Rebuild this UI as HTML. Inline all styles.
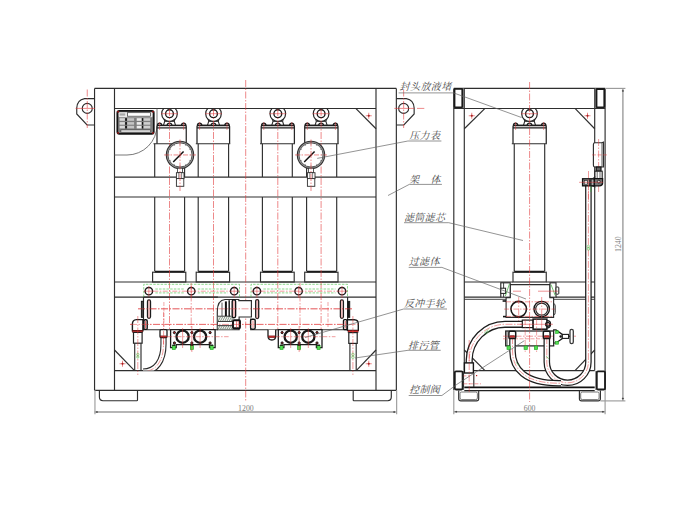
<!DOCTYPE html>
<html><head><meta charset="utf-8"><title>drawing</title>
<style>html,body{margin:0;padding:0;background:#fff;}svg{display:block;}text{font-family:"Liberation Serif","Noto Serif CJK SC",serif;}</style>
</head><body>
<svg width="700" height="525" viewBox="0 0 700 525" shape-rendering="geometricPrecision">
<rect x="0" y="0" width="700" height="525" fill="#ffffff"/>
<line x1="94.55" y1="88.4" x2="396.35" y2="88.4" stroke="#2e2e2e" stroke-width="1.15" />
<line x1="94.55" y1="88.4" x2="94.55" y2="390.3" stroke="#2e2e2e" stroke-width="1.15" />
<line x1="396.35" y1="88.4" x2="396.35" y2="390.3" stroke="#2e2e2e" stroke-width="1.15" />
<line x1="94.55" y1="390.3" x2="396.35" y2="390.3" stroke="#2e2e2e" stroke-width="1.15" />
<line x1="114.5" y1="88.4" x2="114.5" y2="390.3" stroke="#2e2e2e" stroke-width="1.15" />
<line x1="376.0" y1="88.4" x2="376.0" y2="390.3" stroke="#2e2e2e" stroke-width="1.15" />
<line x1="114.5" y1="108.45" x2="376.0" y2="108.45" stroke="#2e2e2e" stroke-width="1.15" />
<line x1="114.5" y1="177.1" x2="376.0" y2="177.1" stroke="#2e2e2e" stroke-width="1.15" />
<line x1="114.5" y1="196.95" x2="376.0" y2="196.95" stroke="#2e2e2e" stroke-width="1.15" />
<line x1="114.5" y1="282.0" x2="376.0" y2="282.0" stroke="#2e2e2e" stroke-width="1.15" />
<line x1="114.5" y1="297.1" x2="376.0" y2="297.1" stroke="#2e2e2e" stroke-width="1.15" />
<line x1="114.5" y1="370.6" x2="376.0" y2="370.6" stroke="#2e2e2e" stroke-width="1.15" />
<path d="M99.4,390.3 V397.09999999999997 Q99.4,400.7 103.0,400.7 H136.8 Q137.5,400.7 137.5,400.0 V390.3" stroke="#2e2e2e" stroke-width="1.15" fill="none" />
<path d="M353.2,390.3 V400.0 Q353.2,400.7 353.9,400.7 H387.7 Q391.3,400.7 391.3,397.09999999999997 V390.3" stroke="#2e2e2e" stroke-width="1.15" fill="none" />
<path d="M94.55,98.6 H84.55 Q77.05,100 76.75,108 V114 L87.05,125 H94.55" stroke="#2e2e2e" stroke-width="1.15" fill="none" />
<circle cx="87.25" cy="108.4" r="5.0" stroke="#2e2e2e" stroke-width="1.15" fill="none" />
<line x1="87.25" y1="89.5" x2="87.25" y2="128" stroke="#e0393b" stroke-width="0.6" stroke-dasharray="7 1.5 1.5 1.5"/>
<line x1="75.6" y1="108.4" x2="95" y2="108.4" stroke="#e0393b" stroke-width="0.6" />
<path d="M396.35,98.6 H406.35 Q413.85,100 414.15000000000003,108 V114 L403.85,125 H396.35" stroke="#2e2e2e" stroke-width="1.15" fill="none" />
<circle cx="403.65000000000003" cy="108.4" r="5.0" stroke="#2e2e2e" stroke-width="1.15" fill="none" />
<line x1="403.65000000000003" y1="89.5" x2="403.65000000000003" y2="128" stroke="#e0393b" stroke-width="0.6" stroke-dasharray="7 1.5 1.5 1.5"/>
<line x1="394.3" y1="108.4" x2="414.3" y2="108.4" stroke="#e0393b" stroke-width="0.6" />
<line x1="417" y1="108.4" x2="424.3" y2="108.4" stroke="#e0393b" stroke-width="0.6" />
<line x1="355.75" y1="108.45" x2="376.0" y2="128.75" stroke="#2e2e2e" stroke-width="1.15" />
<line x1="365.75" y1="115.75" x2="371.75" y2="115.75" stroke="#e0393b" stroke-width="0.6" />
<line x1="368.75" y1="112.75" x2="368.75" y2="118.75" stroke="#e0393b" stroke-width="0.6" />
<circle cx="368.75" cy="115.75" r="0.8" stroke="#a02020" stroke-width="0.5" fill="#a02020" />
<line x1="114.5" y1="350" x2="134.5" y2="370.6" stroke="#2e2e2e" stroke-width="1.15" />
<line x1="119.5" y1="363.75" x2="125.5" y2="363.75" stroke="#e0393b" stroke-width="0.6" />
<line x1="122.5" y1="360.75" x2="122.5" y2="366.75" stroke="#e0393b" stroke-width="0.6" />
<circle cx="122.5" cy="363.75" r="0.8" stroke="#a02020" stroke-width="0.5" fill="#a02020" />
<line x1="376.0" y1="350" x2="356.25" y2="370.6" stroke="#2e2e2e" stroke-width="1.15" />
<line x1="365.75" y1="363.75" x2="371.75" y2="363.75" stroke="#e0393b" stroke-width="0.6" />
<line x1="368.75" y1="360.75" x2="368.75" y2="366.75" stroke="#e0393b" stroke-width="0.6" />
<circle cx="368.75" cy="363.75" r="0.8" stroke="#a02020" stroke-width="0.5" fill="#a02020" />
<rect x="117.3" y="110.9" width="36.5" height="22.9" rx="2" stroke="#141414" stroke-width="1.7" fill="#7d7d7d" />
<rect x="118.8" y="112.3" width="33.6" height="4.9" rx="1" stroke="none" stroke-width="0" fill="#e9e9e9" />
<rect x="119.6" y="113.4" width="5.6" height="2.2" rx="0" stroke="none" stroke-width="0" fill="#a8a8a8" />
<rect x="127.5" y="112.7" width="23.0" height="3.5" rx="0" stroke="#333" stroke-width="0.7" fill="#fff" />
<rect x="119.6" y="118.2" width="5.3" height="2.6" rx="0" stroke="none" stroke-width="0" fill="#d8d8d8" />
<rect x="125.2" y="118.2" width="1.7" height="2.6" rx="0" stroke="none" stroke-width="0" fill="#111" />
<rect x="127.2" y="118.2" width="6.9" height="2.6" rx="0" stroke="none" stroke-width="0" fill="#c4c4c4" />
<rect x="136.7" y="118.2" width="4.9" height="2.6" rx="0" stroke="none" stroke-width="0" fill="#ececec" />
<rect x="141.9" y="118.2" width="1.4" height="2.6" rx="0" stroke="none" stroke-width="0" fill="#111" />
<rect x="143.6" y="118.2" width="6.6" height="2.6" rx="0" stroke="none" stroke-width="0" fill="#cfcfcf" />
<rect x="119.6" y="122.1" width="5.3" height="2.6" rx="0" stroke="none" stroke-width="0" fill="#d8d8d8" />
<rect x="125.2" y="122.1" width="1.7" height="2.6" rx="0" stroke="none" stroke-width="0" fill="#111" />
<rect x="127.2" y="122.1" width="6.9" height="2.6" rx="0" stroke="none" stroke-width="0" fill="#c4c4c4" />
<rect x="136.7" y="122.1" width="4.9" height="2.6" rx="0" stroke="none" stroke-width="0" fill="#ececec" />
<rect x="141.9" y="122.1" width="1.4" height="2.6" rx="0" stroke="none" stroke-width="0" fill="#111" />
<rect x="143.6" y="122.1" width="6.6" height="2.6" rx="0" stroke="none" stroke-width="0" fill="#cfcfcf" />
<rect x="119.6" y="125.8" width="5.3" height="2.6" rx="0" stroke="none" stroke-width="0" fill="#d8d8d8" />
<rect x="125.2" y="125.8" width="1.7" height="2.6" rx="0" stroke="none" stroke-width="0" fill="#111" />
<rect x="127.2" y="125.8" width="6.9" height="2.6" rx="0" stroke="none" stroke-width="0" fill="#c4c4c4" />
<rect x="136.7" y="125.8" width="4.9" height="2.6" rx="0" stroke="none" stroke-width="0" fill="#ececec" />
<rect x="141.9" y="125.8" width="1.4" height="2.6" rx="0" stroke="none" stroke-width="0" fill="#111" />
<rect x="143.6" y="125.8" width="6.6" height="2.6" rx="0" stroke="none" stroke-width="0" fill="#cfcfcf" />
<rect x="120.9" y="130" width="29.6" height="2.1" rx="0" stroke="#333" stroke-width="0.6" fill="#fff" />
<circle cx="118.1" cy="111.7" r="0.7" stroke="#c01818" stroke-width="0.3" fill="#c01818" />
<circle cx="153" cy="111.7" r="0.7" stroke="#c01818" stroke-width="0.3" fill="#c01818" />
<circle cx="118.1" cy="133" r="0.7" stroke="#c01818" stroke-width="0.3" fill="#c01818" />
<circle cx="153" cy="133" r="0.7" stroke="#c01818" stroke-width="0.3" fill="#c01818" />
<path d="M157,108.45 V125 A30,30 0 0 1 127,155 H114.5" stroke="#555" stroke-width="0.8" fill="none" />
<clipPath id="belowbeam"><rect x="0" y="108.6" width="700" height="100"/></clipPath>
<g clip-path="url(#belowbeam)">
<circle cx="169.5" cy="113.7" r="7.8" stroke="#262626" stroke-width="1.2" fill="none" />
<circle cx="169.5" cy="113.7" r="3.9" stroke="#1c1c1c" stroke-width="1.4" fill="none" />
</g>
<path d="M164.3,119.6 L164.7,121.4 L163.5,125.2 M174.7,119.6 L174.3,121.4 L175.5,125.2" stroke="#2e2e2e" stroke-width="1.1" fill="none" />
<line x1="164.7" y1="121.4" x2="174.3" y2="121.4" stroke="#2e2e2e" stroke-width="0.9" />
<path d="M167.1,125.2 Q167.3,123.2 169.5,123.2 Q171.7,123.2 171.9,125.2" stroke="#1c1c1c" stroke-width="1.3" fill="none" />
<line x1="161.0" y1="113.7" x2="178.0" y2="113.7" stroke="#e0393b" stroke-width="0.55" />
<path d="M157,143.75 V126.4 Q157,125.4 158,125.4 H185.25 Q186.25,125.4 186.25,126.4 V143.75" stroke="#262626" stroke-width="1.25" fill="none" />
<line x1="157" y1="125.5" x2="186.25" y2="125.5" stroke="#1c1c1c" stroke-width="1.3" />
<line x1="157" y1="127.9" x2="186.25" y2="127.9" stroke="#1c1c1c" stroke-width="1.2" />
<line x1="153.5" y1="143.75" x2="186.85" y2="143.75" stroke="#2e2e2e" stroke-width="1.15" />
<path d="M157.4,125.4 Q157.6,123.2 159.6,123.2 Q161.6,123.2 161.79999999999998,125.4" stroke="#1c1c1c" stroke-width="1.3" fill="none" />
<line x1="159.6" y1="122" x2="159.6" y2="130" stroke="#e0393b" stroke-width="0.5" />
<path d="M181.45000000000002,125.4 Q181.65,123.2 183.65,123.2 Q185.65,123.2 185.85,125.4" stroke="#1c1c1c" stroke-width="1.3" fill="none" />
<line x1="183.65" y1="122" x2="183.65" y2="130" stroke="#e0393b" stroke-width="0.5" />
<line x1="154.7" y1="143.75" x2="154.7" y2="177.1" stroke="#2e2e2e" stroke-width="1.15" />
<line x1="184.6" y1="143.75" x2="184.6" y2="177.1" stroke="#2e2e2e" stroke-width="1.15" />
<line x1="154.7" y1="196.95" x2="154.7" y2="271" stroke="#2e2e2e" stroke-width="1.15" />
<line x1="184.6" y1="196.95" x2="184.6" y2="271" stroke="#2e2e2e" stroke-width="1.15" />
<line x1="154.7" y1="271.7" x2="184.6" y2="271.7" stroke="#111" stroke-width="1.9" />
<rect x="152.6" y="272.2" width="33.2" height="9.8" rx="0" stroke="#2e2e2e" stroke-width="1.15" fill="none" />
<line x1="169.5" y1="109" x2="169.5" y2="329" stroke="#e0393b" stroke-width="0.6" stroke-dasharray="7 1.5 1.5 1.5"/>
<g clip-path="url(#belowbeam)">
<circle cx="213.5" cy="113.7" r="7.8" stroke="#262626" stroke-width="1.2" fill="none" />
<circle cx="213.5" cy="113.7" r="3.9" stroke="#1c1c1c" stroke-width="1.4" fill="none" />
</g>
<path d="M208.3,119.6 L208.7,121.4 L207.5,125.2 M218.7,119.6 L218.3,121.4 L219.5,125.2" stroke="#2e2e2e" stroke-width="1.1" fill="none" />
<line x1="208.7" y1="121.4" x2="218.3" y2="121.4" stroke="#2e2e2e" stroke-width="0.9" />
<path d="M211.1,125.2 Q211.3,123.2 213.5,123.2 Q215.7,123.2 215.9,125.2" stroke="#1c1c1c" stroke-width="1.3" fill="none" />
<line x1="205.0" y1="113.7" x2="222.0" y2="113.7" stroke="#e0393b" stroke-width="0.55" />
<path d="M197,143.75 V126.4 Q197,125.4 198,125.4 H228.6 Q229.6,125.4 229.6,126.4 V143.75" stroke="#262626" stroke-width="1.25" fill="none" />
<line x1="197" y1="125.5" x2="229.6" y2="125.5" stroke="#1c1c1c" stroke-width="1.3" />
<line x1="197" y1="127.9" x2="229.6" y2="127.9" stroke="#1c1c1c" stroke-width="1.2" />
<line x1="195.8" y1="143.75" x2="230.2" y2="143.75" stroke="#2e2e2e" stroke-width="1.15" />
<path d="M197.4,125.4 Q197.6,123.2 199.6,123.2 Q201.6,123.2 201.79999999999998,125.4" stroke="#1c1c1c" stroke-width="1.3" fill="none" />
<line x1="199.6" y1="122" x2="199.6" y2="130" stroke="#e0393b" stroke-width="0.5" />
<path d="M224.8,125.4 Q225.0,123.2 227.0,123.2 Q229.0,123.2 229.2,125.4" stroke="#1c1c1c" stroke-width="1.3" fill="none" />
<line x1="227.0" y1="122" x2="227.0" y2="130" stroke="#e0393b" stroke-width="0.5" />
<line x1="198.2" y1="143.75" x2="198.2" y2="177.1" stroke="#2e2e2e" stroke-width="1.15" />
<line x1="228.6" y1="143.75" x2="228.6" y2="177.1" stroke="#2e2e2e" stroke-width="1.15" />
<line x1="198.2" y1="196.95" x2="198.2" y2="271" stroke="#2e2e2e" stroke-width="1.15" />
<line x1="228.6" y1="196.95" x2="228.6" y2="271" stroke="#2e2e2e" stroke-width="1.15" />
<line x1="198.2" y1="271.7" x2="228.6" y2="271.7" stroke="#111" stroke-width="1.9" />
<rect x="196.2" y="272.2" width="33.4" height="9.8" rx="0" stroke="#2e2e2e" stroke-width="1.15" fill="none" />
<line x1="213.5" y1="109" x2="213.5" y2="329" stroke="#e0393b" stroke-width="0.6" stroke-dasharray="7 1.5 1.5 1.5"/>
<g clip-path="url(#belowbeam)">
<circle cx="277.8" cy="113.7" r="7.8" stroke="#262626" stroke-width="1.2" fill="none" />
<circle cx="277.8" cy="113.7" r="3.9" stroke="#1c1c1c" stroke-width="1.4" fill="none" />
</g>
<path d="M272.6,119.6 L273.0,121.4 L271.8,125.2 M283.0,119.6 L282.6,121.4 L283.8,125.2" stroke="#2e2e2e" stroke-width="1.1" fill="none" />
<line x1="273.0" y1="121.4" x2="282.6" y2="121.4" stroke="#2e2e2e" stroke-width="0.9" />
<path d="M275.40000000000003,125.2 Q275.6,123.2 277.8,123.2 Q280.0,123.2 280.2,125.2" stroke="#1c1c1c" stroke-width="1.3" fill="none" />
<line x1="269.3" y1="113.7" x2="286.3" y2="113.7" stroke="#e0393b" stroke-width="0.55" />
<path d="M261.2,143.75 V126.4 Q261.2,125.4 262.2,125.4 H293.4 Q294.4,125.4 294.4,126.4 V143.75" stroke="#262626" stroke-width="1.25" fill="none" />
<line x1="261.2" y1="125.5" x2="294.4" y2="125.5" stroke="#1c1c1c" stroke-width="1.3" />
<line x1="261.2" y1="127.9" x2="294.4" y2="127.9" stroke="#1c1c1c" stroke-width="1.2" />
<line x1="260.0" y1="143.75" x2="295.0" y2="143.75" stroke="#2e2e2e" stroke-width="1.15" />
<path d="M261.6,125.4 Q261.8,123.2 263.8,123.2 Q265.8,123.2 266.0,125.4" stroke="#1c1c1c" stroke-width="1.3" fill="none" />
<line x1="263.8" y1="122" x2="263.8" y2="130" stroke="#e0393b" stroke-width="0.5" />
<path d="M289.59999999999997,125.4 Q289.79999999999995,123.2 291.79999999999995,123.2 Q293.79999999999995,123.2 293.99999999999994,125.4" stroke="#1c1c1c" stroke-width="1.3" fill="none" />
<line x1="291.79999999999995" y1="122" x2="291.79999999999995" y2="130" stroke="#e0393b" stroke-width="0.5" />
<line x1="262.4" y1="143.75" x2="262.4" y2="177.1" stroke="#2e2e2e" stroke-width="1.15" />
<line x1="292.3" y1="143.75" x2="292.3" y2="177.1" stroke="#2e2e2e" stroke-width="1.15" />
<line x1="262.4" y1="196.95" x2="262.4" y2="271" stroke="#2e2e2e" stroke-width="1.15" />
<line x1="292.3" y1="196.95" x2="292.3" y2="271" stroke="#2e2e2e" stroke-width="1.15" />
<line x1="262.4" y1="271.7" x2="292.3" y2="271.7" stroke="#111" stroke-width="1.9" />
<rect x="260.5" y="272.2" width="33.7" height="9.8" rx="0" stroke="#2e2e2e" stroke-width="1.15" fill="none" />
<line x1="277.8" y1="109" x2="277.8" y2="329" stroke="#e0393b" stroke-width="0.6" stroke-dasharray="7 1.5 1.5 1.5"/>
<g clip-path="url(#belowbeam)">
<circle cx="321.1" cy="113.7" r="7.8" stroke="#262626" stroke-width="1.2" fill="none" />
<circle cx="321.1" cy="113.7" r="3.9" stroke="#1c1c1c" stroke-width="1.4" fill="none" />
</g>
<path d="M315.90000000000003,119.6 L316.3,121.4 L315.1,125.2 M326.3,119.6 L325.90000000000003,121.4 L327.1,125.2" stroke="#2e2e2e" stroke-width="1.1" fill="none" />
<line x1="316.3" y1="121.4" x2="325.90000000000003" y2="121.4" stroke="#2e2e2e" stroke-width="0.9" />
<path d="M318.70000000000005,125.2 Q318.90000000000003,123.2 321.1,123.2 Q323.3,123.2 323.5,125.2" stroke="#1c1c1c" stroke-width="1.3" fill="none" />
<line x1="312.6" y1="113.7" x2="329.6" y2="113.7" stroke="#e0393b" stroke-width="0.55" />
<path d="M304.7,143.75 V126.4 Q304.7,125.4 305.7,125.4 H337 Q338,125.4 338,126.4 V143.75" stroke="#262626" stroke-width="1.25" fill="none" />
<line x1="304.7" y1="125.5" x2="338" y2="125.5" stroke="#1c1c1c" stroke-width="1.3" />
<line x1="304.7" y1="127.9" x2="338" y2="127.9" stroke="#1c1c1c" stroke-width="1.2" />
<line x1="303.5" y1="143.75" x2="338.6" y2="143.75" stroke="#2e2e2e" stroke-width="1.15" />
<path d="M305.1,125.4 Q305.3,123.2 307.3,123.2 Q309.3,123.2 309.5,125.4" stroke="#1c1c1c" stroke-width="1.3" fill="none" />
<line x1="307.3" y1="122" x2="307.3" y2="130" stroke="#e0393b" stroke-width="0.5" />
<path d="M333.2,125.4 Q333.4,123.2 335.4,123.2 Q337.4,123.2 337.59999999999997,125.4" stroke="#1c1c1c" stroke-width="1.3" fill="none" />
<line x1="335.4" y1="122" x2="335.4" y2="130" stroke="#e0393b" stroke-width="0.5" />
<line x1="306.6" y1="143.75" x2="306.6" y2="177.1" stroke="#2e2e2e" stroke-width="1.15" />
<line x1="336.7" y1="143.75" x2="336.7" y2="177.1" stroke="#2e2e2e" stroke-width="1.15" />
<line x1="306.6" y1="196.95" x2="306.6" y2="271" stroke="#2e2e2e" stroke-width="1.15" />
<line x1="336.7" y1="196.95" x2="336.7" y2="271" stroke="#2e2e2e" stroke-width="1.15" />
<line x1="306.6" y1="271.7" x2="336.7" y2="271.7" stroke="#111" stroke-width="1.9" />
<rect x="304.7" y="272.2" width="33.3" height="9.8" rx="0" stroke="#2e2e2e" stroke-width="1.15" fill="none" />
<line x1="321.1" y1="109" x2="321.1" y2="329" stroke="#e0393b" stroke-width="0.6" stroke-dasharray="7 1.5 1.5 1.5"/>
<line x1="245.7" y1="80" x2="245.7" y2="402" stroke="#e0393b" stroke-width="0.6" stroke-dasharray="7 1.5 1.5 1.5"/>
<circle cx="180" cy="154.95" r="13.6" stroke="#fff" stroke-width="0" fill="#fff" />
<circle cx="180" cy="154.95" r="12.95" stroke="#9a9a9a" stroke-width="1.5" fill="none" />
<circle cx="180" cy="154.95" r="13.7" stroke="#333" stroke-width="1.1" fill="none" />
<circle cx="180" cy="154.95" r="12.1" stroke="#444" stroke-width="0.9" fill="none" />
<line x1="190.3" y1="154.95" x2="192.0" y2="154.95" stroke="#666" stroke-width="0.5" />
<line x1="188.92" y1="160.1" x2="190.39" y2="160.95" stroke="#666" stroke-width="0.5" />
<line x1="185.15" y1="163.87" x2="186.0" y2="165.34" stroke="#666" stroke-width="0.5" />
<line x1="180.0" y1="165.25" x2="180.0" y2="166.95" stroke="#666" stroke-width="0.5" />
<line x1="174.85" y1="163.87" x2="174.0" y2="165.34" stroke="#666" stroke-width="0.5" />
<line x1="171.08" y1="160.1" x2="169.61" y2="160.95" stroke="#666" stroke-width="0.5" />
<line x1="169.7" y1="154.95" x2="168.0" y2="154.95" stroke="#666" stroke-width="0.5" />
<line x1="171.08" y1="149.8" x2="169.61" y2="148.95" stroke="#666" stroke-width="0.5" />
<line x1="174.85" y1="146.03" x2="174.0" y2="144.56" stroke="#666" stroke-width="0.5" />
<line x1="180.0" y1="144.65" x2="180.0" y2="142.95" stroke="#666" stroke-width="0.5" />
<line x1="185.15" y1="146.03" x2="186.0" y2="144.56" stroke="#666" stroke-width="0.5" />
<line x1="188.92" y1="149.8" x2="190.39" y2="148.95" stroke="#666" stroke-width="0.5" />
<line x1="173.2" y1="161.95" x2="183.6" y2="151.54999999999998" stroke="#111" stroke-width="1.5" />
<rect x="177.6" y="168.2" width="5.0" height="4.5" rx="0" stroke="#2e2e2e" stroke-width="0.8" fill="#fff" />
<rect x="176.4" y="172.7" width="7.6" height="5.9" rx="0" stroke="#2e2e2e" stroke-width="0.9" fill="#fff" />
<line x1="178.8" y1="172.7" x2="178.8" y2="178.6" stroke="#2e2e2e" stroke-width="0.6" />
<line x1="181.6" y1="172.7" x2="181.6" y2="178.6" stroke="#2e2e2e" stroke-width="0.6" />
<rect x="176.4" y="178.6" width="7.4" height="7.7" rx="0" stroke="#2e2e2e" stroke-width="0.9" fill="#fff" />
<line x1="180" y1="139.5" x2="180" y2="191" stroke="#e0393b" stroke-width="0.6" stroke-dasharray="7 1.5 1.5 1.5"/>
<line x1="164" y1="154.95" x2="196" y2="154.95" stroke="#e0393b" stroke-width="0.6" stroke-dasharray="5 1.5 1.5 1.5"/>
<circle cx="311" cy="154.95" r="13.6" stroke="#fff" stroke-width="0" fill="#fff" />
<circle cx="311" cy="154.95" r="12.95" stroke="#9a9a9a" stroke-width="1.5" fill="none" />
<circle cx="311" cy="154.95" r="13.7" stroke="#333" stroke-width="1.1" fill="none" />
<circle cx="311" cy="154.95" r="12.1" stroke="#444" stroke-width="0.9" fill="none" />
<line x1="321.3" y1="154.95" x2="323.0" y2="154.95" stroke="#666" stroke-width="0.5" />
<line x1="319.92" y1="160.1" x2="321.39" y2="160.95" stroke="#666" stroke-width="0.5" />
<line x1="316.15" y1="163.87" x2="317.0" y2="165.34" stroke="#666" stroke-width="0.5" />
<line x1="311.0" y1="165.25" x2="311.0" y2="166.95" stroke="#666" stroke-width="0.5" />
<line x1="305.85" y1="163.87" x2="305.0" y2="165.34" stroke="#666" stroke-width="0.5" />
<line x1="302.08" y1="160.1" x2="300.61" y2="160.95" stroke="#666" stroke-width="0.5" />
<line x1="300.7" y1="154.95" x2="299.0" y2="154.95" stroke="#666" stroke-width="0.5" />
<line x1="302.08" y1="149.8" x2="300.61" y2="148.95" stroke="#666" stroke-width="0.5" />
<line x1="305.85" y1="146.03" x2="305.0" y2="144.56" stroke="#666" stroke-width="0.5" />
<line x1="311.0" y1="144.65" x2="311.0" y2="142.95" stroke="#666" stroke-width="0.5" />
<line x1="316.15" y1="146.03" x2="317.0" y2="144.56" stroke="#666" stroke-width="0.5" />
<line x1="319.92" y1="149.8" x2="321.39" y2="148.95" stroke="#666" stroke-width="0.5" />
<line x1="304.2" y1="161.95" x2="314.6" y2="151.54999999999998" stroke="#111" stroke-width="1.5" />
<rect x="308.6" y="168.2" width="5.0" height="4.5" rx="0" stroke="#2e2e2e" stroke-width="0.8" fill="#fff" />
<rect x="307.4" y="172.7" width="7.6" height="5.9" rx="0" stroke="#2e2e2e" stroke-width="0.9" fill="#fff" />
<line x1="309.8" y1="172.7" x2="309.8" y2="178.6" stroke="#2e2e2e" stroke-width="0.6" />
<line x1="312.6" y1="172.7" x2="312.6" y2="178.6" stroke="#2e2e2e" stroke-width="0.6" />
<rect x="307.4" y="178.6" width="7.4" height="7.7" rx="0" stroke="#2e2e2e" stroke-width="0.9" fill="#fff" />
<line x1="311" y1="139.5" x2="311" y2="191" stroke="#e0393b" stroke-width="0.6" stroke-dasharray="7 1.5 1.5 1.5"/>
<line x1="295" y1="154.95" x2="327" y2="154.95" stroke="#e0393b" stroke-width="0.6" stroke-dasharray="5 1.5 1.5 1.5"/>
<path d="M143.75,297 V284.3 H239.5 V297" stroke="#3fbf3f" stroke-width="0.6" fill="none" stroke-dasharray="2.5 1.2"/>
<line x1="143.75" y1="291.2" x2="239.5" y2="291.2" stroke="#e0393b" stroke-width="0.5" stroke-dasharray="5 1.5 1.5 1.5"/>
<path d="M251,297 V284.3 H347.5 V297" stroke="#3fbf3f" stroke-width="0.6" fill="none" stroke-dasharray="2.5 1.2"/>
<line x1="251" y1="291.2" x2="347.5" y2="291.2" stroke="#e0393b" stroke-width="0.5" stroke-dasharray="5 1.5 1.5 1.5"/>
<line x1="155.35" y1="289" x2="184.75" y2="289" stroke="#3fbf3f" stroke-width="0.6" stroke-dasharray="2.5 1.2"/>
<line x1="155.35" y1="292.9" x2="184.75" y2="292.9" stroke="#3fbf3f" stroke-width="0.6" stroke-dasharray="2.5 1.2"/>
<line x1="197.75" y1="289" x2="227.7" y2="289" stroke="#3fbf3f" stroke-width="0.6" stroke-dasharray="2.5 1.2"/>
<line x1="197.75" y1="292.9" x2="227.7" y2="292.9" stroke="#3fbf3f" stroke-width="0.6" stroke-dasharray="2.5 1.2"/>
<line x1="263.4" y1="289" x2="292.1" y2="289" stroke="#3fbf3f" stroke-width="0.6" stroke-dasharray="2.5 1.2"/>
<line x1="263.4" y1="292.9" x2="292.1" y2="292.9" stroke="#3fbf3f" stroke-width="0.6" stroke-dasharray="2.5 1.2"/>
<line x1="305.1" y1="289" x2="335.5" y2="289" stroke="#3fbf3f" stroke-width="0.6" stroke-dasharray="2.5 1.2"/>
<line x1="305.1" y1="292.9" x2="335.5" y2="292.9" stroke="#3fbf3f" stroke-width="0.6" stroke-dasharray="2.5 1.2"/>
<circle cx="148.85" cy="291.2" r="3.7" stroke="#1c1c1c" stroke-width="1.4" fill="#fff" />
<line x1="144.35" y1="291.2" x2="153.35" y2="291.2" stroke="#e0393b" stroke-width="0.5" />
<line x1="148.85" y1="286" x2="148.85" y2="298" stroke="#e0393b" stroke-width="0.5" />
<circle cx="191.25" cy="291.2" r="3.7" stroke="#1c1c1c" stroke-width="1.4" fill="#fff" />
<line x1="186.75" y1="291.2" x2="195.75" y2="291.2" stroke="#e0393b" stroke-width="0.5" />
<line x1="191.25" y1="286" x2="191.25" y2="298" stroke="#e0393b" stroke-width="0.5" />
<circle cx="234.2" cy="291.2" r="3.7" stroke="#1c1c1c" stroke-width="1.4" fill="#fff" />
<line x1="229.7" y1="291.2" x2="238.7" y2="291.2" stroke="#e0393b" stroke-width="0.5" />
<line x1="234.2" y1="286" x2="234.2" y2="298" stroke="#e0393b" stroke-width="0.5" />
<circle cx="256.9" cy="291.2" r="3.7" stroke="#1c1c1c" stroke-width="1.4" fill="#fff" />
<line x1="252.39999999999998" y1="291.2" x2="261.4" y2="291.2" stroke="#e0393b" stroke-width="0.5" />
<line x1="256.9" y1="286" x2="256.9" y2="298" stroke="#e0393b" stroke-width="0.5" />
<circle cx="298.6" cy="291.2" r="3.7" stroke="#1c1c1c" stroke-width="1.4" fill="#fff" />
<line x1="294.1" y1="291.2" x2="303.1" y2="291.2" stroke="#e0393b" stroke-width="0.5" />
<line x1="298.6" y1="286" x2="298.6" y2="298" stroke="#e0393b" stroke-width="0.5" />
<circle cx="342" cy="291.2" r="3.7" stroke="#1c1c1c" stroke-width="1.4" fill="#fff" />
<line x1="337.5" y1="291.2" x2="346.5" y2="291.2" stroke="#e0393b" stroke-width="0.5" />
<line x1="342" y1="286" x2="342" y2="298" stroke="#e0393b" stroke-width="0.5" />
<path d="M143.5,297.1 V329.7 H217.9" stroke="#2e2e2e" stroke-width="1.15" fill="none" />
<line x1="143.5" y1="297.1" x2="217.9" y2="297.1" stroke="#2e2e2e" stroke-width="1.15" />
<path d="M250.7,318.5 V329.7 H347.6 V297.1" stroke="#2e2e2e" stroke-width="1.15" fill="none" />
<line x1="138" y1="308.8" x2="352" y2="308.8" stroke="#e0393b" stroke-width="0.5" stroke-dasharray="7 1.5 1.5 1.5"/>
<line x1="130" y1="324.4" x2="360" y2="324.4" stroke="#e0393b" stroke-width="0.5" stroke-dasharray="7 1.5 1.5 1.5"/>
<line x1="191.2" y1="283" x2="191.2" y2="351" stroke="#e0393b" stroke-width="0.5" stroke-dasharray="7 1.5 1.5 1.5"/>
<line x1="300" y1="283" x2="300" y2="351" stroke="#e0393b" stroke-width="0.5" stroke-dasharray="7 1.5 1.5 1.5"/>
<line x1="163.9" y1="302" x2="163.9" y2="327" stroke="#e0393b" stroke-width="0.45" stroke-dasharray="4 1.5"/>
<line x1="234" y1="302" x2="234" y2="327" stroke="#e0393b" stroke-width="0.45" stroke-dasharray="4 1.5"/>
<line x1="328" y1="302" x2="328" y2="327" stroke="#e0393b" stroke-width="0.45" stroke-dasharray="4 1.5"/>
<rect x="147.5" y="299.9" width="3.0" height="18.4" rx="1.5" stroke="#1c1c1c" stroke-width="1.3" fill="none" />
<line x1="149" y1="299.9" x2="149" y2="318.3" stroke="#e0393b" stroke-width="0.5" />
<rect x="255.7" y="299.6" width="3.0" height="19.0" rx="1.5" stroke="#1c1c1c" stroke-width="1.3" fill="none" />
<line x1="257.2" y1="299.6" x2="257.2" y2="318.6" stroke="#e0393b" stroke-width="0.5" />
<rect x="340.4" y="299.9" width="3.0" height="18.4" rx="1.5" stroke="#1c1c1c" stroke-width="1.3" fill="none" />
<line x1="341.9" y1="299.9" x2="341.9" y2="318.3" stroke="#e0393b" stroke-width="0.5" />
<rect x="141.4" y="301.3" width="1.9" height="16.0" rx="0" stroke="#1a1a1a" stroke-width="1.0" fill="#555" />
<rect x="347.8" y="301.4" width="1.9" height="15.9" rx="0" stroke="#1a1a1a" stroke-width="1.0" fill="#1a1a1a" />
<path d="M142.9,319.6 H136.4 Q132.4,319.8 132.4,324 V330.7 H142.9 Z" stroke="#1c1c1c" stroke-width="1.4" fill="#fff" />
<rect x="132.6" y="330.5" width="10.1" height="1.7" rx="0" stroke="#5a1010" stroke-width="0.6" fill="#d03030" />
<rect x="133.5" y="332.4" width="8.6" height="10.8" rx="0" stroke="#222" stroke-width="1.2" fill="#fff" />
<rect x="143.9" y="319.8" width="3.3" height="9.6" rx="1.2" stroke="#111" stroke-width="1.4" fill="#fff" />
<line x1="145.5" y1="321" x2="145.5" y2="328.4" stroke="#e0393b" stroke-width="0.7" />
<line x1="134.7" y1="343.2" x2="134.7" y2="370.6" stroke="#2e2e2e" stroke-width="1.15" />
<line x1="141" y1="343.2" x2="141" y2="370.6" stroke="#2e2e2e" stroke-width="1.15" />
<line x1="137.8" y1="316" x2="137.8" y2="375" stroke="#e0393b" stroke-width="0.5" stroke-dasharray="7 1.5 1.5 1.5"/>
<circle cx="137.8" cy="354.5" r="1.2" stroke="#3fbf3f" stroke-width="0.5" fill="none" />
<circle cx="137.8" cy="357" r="1.2" stroke="#3fbf3f" stroke-width="0.5" fill="none" />
<clipPath id="abovebeam"><rect x="100" y="300" width="300" height="70.4"/></clipPath>
<g clip-path="url(#abovebeam)">
<path d="M163.5,337 V344 C163.5,361 156,371.5 143,371.5" stroke="#2a2a2a" stroke-width="6.2" fill="none" />
<path d="M163.5,337 V344 C163.5,361 156,371.5 143,371.5" stroke="#fff" stroke-width="4.0" fill="none" />
<path d="M163.5,337 V344 C163.5,361 156,371.5 143,371.5" stroke="#e0393b" stroke-width="0.5" fill="none" stroke-dasharray="7 1.5 1.5 1.5"/>
</g>
<rect x="160" y="329.7" width="7" height="7.8" rx="1" stroke="#1c1c1c" stroke-width="1.3" fill="#fff" />
<rect x="160.4" y="335.9" width="6.2" height="1.4" rx="0" stroke="#5a1010" stroke-width="0.5" fill="#d03030" />
<line x1="163.6" y1="312" x2="163.6" y2="345" stroke="#e0393b" stroke-width="0.5" stroke-dasharray="5 1.5 1.5 1.5"/>
<path d="M347.4,319.8 H354.4 Q358.3,320 358.3,324 V330.4 H347.4 Z" stroke="#1c1c1c" stroke-width="1.4" fill="#fff" />
<rect x="348" y="330.3" width="10.1" height="2.1" rx="0" stroke="#5a1010" stroke-width="0.6" fill="#d03030" />
<rect x="348.8" y="332.6" width="8.4" height="10.8" rx="0" stroke="#222" stroke-width="1.2" fill="#fff" />
<rect x="343.5" y="319.6" width="3.5" height="10.0" rx="1.2" stroke="#111" stroke-width="1.4" fill="#fff" />
<line x1="345.3" y1="321" x2="345.3" y2="328.4" stroke="#e0393b" stroke-width="0.7" />
<line x1="349.9" y1="343.4" x2="349.9" y2="370.6" stroke="#2e2e2e" stroke-width="1.15" />
<line x1="356.2" y1="343.4" x2="356.2" y2="370.6" stroke="#2e2e2e" stroke-width="1.15" />
<line x1="352.9" y1="316" x2="352.9" y2="375" stroke="#e0393b" stroke-width="0.5" stroke-dasharray="7 1.5 1.5 1.5"/>
<circle cx="352.9" cy="354.5" r="1.3" stroke="#3fbf3f" stroke-width="0.5" fill="none" />
<circle cx="352.9" cy="357.3" r="1.3" stroke="#3fbf3f" stroke-width="0.5" fill="none" />
<path d="M170.6,329.7 V347.7 H176.2 V344.7 H209.5 V347.7 H215.1 V329.7 Z" stroke="#1c1c1c" stroke-width="1.3" fill="#fff" />
<circle cx="182.6" cy="336.7" r="6.1" stroke="#1a1a1a" stroke-width="2.3" fill="none" />
<line x1="182.6" y1="328" x2="182.6" y2="348" stroke="#e0393b" stroke-width="0.5" />
<circle cx="200.1" cy="336.7" r="6.1" stroke="#1a1a1a" stroke-width="2.3" fill="none" />
<line x1="200.1" y1="328" x2="200.1" y2="348" stroke="#e0393b" stroke-width="0.5" />
<line x1="167.1" y1="336.7" x2="228.6" y2="336.7" stroke="#e0393b" stroke-width="0.5" stroke-dasharray="5 1.5 1.5 1.5"/>
<rect x="172.29999999999998" y="345.6" width="3.0" height="3.8" rx="0" stroke="#2a2" stroke-width="0.7" fill="#5d5" />
<line x1="172.39999999999998" y1="345.2" x2="175.2" y2="345.2" stroke="#111" stroke-width="1.3" />
<rect x="190.35" y="345.6" width="3.0" height="3.8" rx="0" stroke="#2a2" stroke-width="0.7" fill="#5d5" />
<line x1="190.45" y1="345.2" x2="193.25" y2="345.2" stroke="#111" stroke-width="1.3" />
<rect x="210.2" y="345.6" width="3.0" height="3.8" rx="0" stroke="#2a2" stroke-width="0.7" fill="#5d5" />
<line x1="210.29999999999998" y1="345.2" x2="213.1" y2="345.2" stroke="#111" stroke-width="1.3" />
<circle cx="174.4" cy="332.6" r="1.1" stroke="#111" stroke-width="1.0" fill="#c02020" />
<circle cx="174.4" cy="343" r="1.1" stroke="#111" stroke-width="1.0" fill="#c02020" />
<circle cx="191.85" cy="332.6" r="1.1" stroke="#111" stroke-width="1.0" fill="#c02020" />
<circle cx="191.85" cy="343" r="1.1" stroke="#111" stroke-width="1.0" fill="#c02020" />
<circle cx="210.1" cy="332.6" r="1.1" stroke="#111" stroke-width="1.0" fill="#c02020" />
<circle cx="210.1" cy="343" r="1.1" stroke="#111" stroke-width="1.0" fill="#c02020" />
<line x1="191.85" y1="326" x2="191.85" y2="352" stroke="#e0393b" stroke-width="0.5" />
<path d="M278.3,329.7 V347.7 H283.90000000000003 V344.7 H316.4 V347.7 H322 V329.7 Z" stroke="#1c1c1c" stroke-width="1.3" fill="#fff" />
<circle cx="290.7" cy="336.7" r="6.1" stroke="#1a1a1a" stroke-width="2.3" fill="none" />
<line x1="290.7" y1="328" x2="290.7" y2="348" stroke="#e0393b" stroke-width="0.5" />
<circle cx="308.3" cy="336.7" r="6.1" stroke="#1a1a1a" stroke-width="2.3" fill="none" />
<line x1="308.3" y1="328" x2="308.3" y2="348" stroke="#e0393b" stroke-width="0.5" />
<line x1="274.8" y1="336.7" x2="335.5" y2="336.7" stroke="#e0393b" stroke-width="0.5" stroke-dasharray="5 1.5 1.5 1.5"/>
<rect x="280.0" y="345.6" width="3.0" height="3.8" rx="0" stroke="#2a2" stroke-width="0.7" fill="#5d5" />
<line x1="280.1" y1="345.2" x2="282.9" y2="345.2" stroke="#111" stroke-width="1.3" />
<rect x="297.65" y="345.6" width="3.0" height="3.8" rx="0" stroke="#2a2" stroke-width="0.7" fill="#5d5" />
<line x1="297.75" y1="345.2" x2="300.54999999999995" y2="345.2" stroke="#111" stroke-width="1.3" />
<rect x="317.1" y="345.6" width="3.0" height="3.8" rx="0" stroke="#2a2" stroke-width="0.7" fill="#5d5" />
<line x1="317.20000000000005" y1="345.2" x2="320.0" y2="345.2" stroke="#111" stroke-width="1.3" />
<circle cx="282.1" cy="332.6" r="1.1" stroke="#111" stroke-width="1.0" fill="#c02020" />
<circle cx="282.1" cy="343" r="1.1" stroke="#111" stroke-width="1.0" fill="#c02020" />
<circle cx="299.15" cy="332.6" r="1.1" stroke="#111" stroke-width="1.0" fill="#c02020" />
<circle cx="299.15" cy="343" r="1.1" stroke="#111" stroke-width="1.0" fill="#c02020" />
<circle cx="317" cy="332.6" r="1.1" stroke="#111" stroke-width="1.0" fill="#c02020" />
<circle cx="317" cy="343" r="1.1" stroke="#111" stroke-width="1.0" fill="#c02020" />
<line x1="299.15" y1="326" x2="299.15" y2="352" stroke="#e0393b" stroke-width="0.5" />
<path d="M268,329.7 V336 Q268,340 271.9,340 Q275.7,340 275.7,336 V329.7" stroke="#1c1c1c" stroke-width="1.3" fill="#fff" />
<rect x="268.6" y="335.9" width="6.5" height="1.8" rx="0" stroke="#5a1010" stroke-width="0.5" fill="#d03030" />
<path d="M238.8,300.6 V299.5 H225 Q217.3,300.2 217.3,311.5 V329.7 H239.1 V317 H251.4 V300.6 Z" stroke="#2e2e2e" stroke-width="1.15" fill="#fff" />
<path d="M217.9,316.4 H231.6 V321.4 H217.9 Z M217.9,325.8 H232 V329.2 H217.9 Z" stroke="#787" stroke-width="0.4" fill="#f4f8f4" />
<line x1="218.2" y1="321.2" x2="220.6" y2="316.6" stroke="#454" stroke-width="0.6" />
<line x1="218.2" y1="329.2" x2="220.0" y2="326" stroke="#454" stroke-width="0.6" />
<line x1="220.39999999999998" y1="321.2" x2="222.79999999999998" y2="316.6" stroke="#454" stroke-width="0.6" />
<line x1="220.39999999999998" y1="329.2" x2="222.2" y2="326" stroke="#454" stroke-width="0.6" />
<line x1="222.6" y1="321.2" x2="225.0" y2="316.6" stroke="#454" stroke-width="0.6" />
<line x1="222.6" y1="329.2" x2="224.4" y2="326" stroke="#454" stroke-width="0.6" />
<line x1="224.79999999999998" y1="321.2" x2="227.2" y2="316.6" stroke="#454" stroke-width="0.6" />
<line x1="224.79999999999998" y1="329.2" x2="226.6" y2="326" stroke="#454" stroke-width="0.6" />
<line x1="227.0" y1="321.2" x2="229.4" y2="316.6" stroke="#454" stroke-width="0.6" />
<line x1="227.0" y1="329.2" x2="228.8" y2="326" stroke="#454" stroke-width="0.6" />
<line x1="229.2" y1="321.2" x2="231.6" y2="316.6" stroke="#454" stroke-width="0.6" />
<line x1="229.2" y1="329.2" x2="231.0" y2="326" stroke="#454" stroke-width="0.6" />
<line x1="231.39999999999998" y1="321.2" x2="233.79999999999998" y2="316.6" stroke="#454" stroke-width="0.6" />
<line x1="231.39999999999998" y1="329.2" x2="233.2" y2="326" stroke="#454" stroke-width="0.6" />
<line x1="217.9" y1="321.5" x2="232" y2="321.5" stroke="#2e2e2e" stroke-width="0.9" />
<line x1="217.9" y1="325.6" x2="232" y2="325.6" stroke="#2e2e2e" stroke-width="0.9" />
<line x1="217.9" y1="316.2" x2="231" y2="316.2" stroke="#2e2e2e" stroke-width="0.8" />
<line x1="222" y1="302.6" x2="222" y2="316" stroke="#2e2e2e" stroke-width="0.8" />
<line x1="225.9" y1="301.4" x2="225.9" y2="316" stroke="#111" stroke-width="2.0" />
<line x1="229.2" y1="300.2" x2="229.2" y2="316.4" stroke="#222" stroke-width="1.5" />
<rect x="232.2" y="299.8" width="3.4" height="17.9" rx="1.7" stroke="#111" stroke-width="1.4" fill="#fff" />
<line x1="233.9" y1="301" x2="233.9" y2="316.5" stroke="#e0393b" stroke-width="0.6" />
<rect x="233" y="320.2" width="7" height="8.0" rx="1" stroke="#111" stroke-width="1.9" fill="#fff" />
<line x1="236.5" y1="321" x2="236.5" y2="327.5" stroke="#e0393b" stroke-width="0.6" />
<line x1="238.4" y1="321" x2="238.4" y2="327.5" stroke="#e0393b" stroke-width="0.5" />
<rect x="250.6" y="319.2" width="4.6" height="10.0" rx="1.4" stroke="#111" stroke-width="1.4" fill="#fff" />
<line x1="253" y1="320.5" x2="253" y2="328" stroke="#e0393b" stroke-width="0.6" />
<line x1="138" y1="308.8" x2="352" y2="308.8" stroke="#e0393b" stroke-width="0.5" stroke-dasharray="7 1.5 1.5 1.5"/>
<line x1="130" y1="324.4" x2="360" y2="324.4" stroke="#e0393b" stroke-width="0.5" stroke-dasharray="7 1.5 1.5 1.5"/>
<line x1="94.95" y1="390.3" x2="94.95" y2="414.3" stroke="#9c9c9c" stroke-width="1.15" />
<line x1="396.65000000000003" y1="390.3" x2="396.65000000000003" y2="414.3" stroke="#9c9c9c" stroke-width="1.15" />
<line x1="94.55" y1="412" x2="396.35" y2="412" stroke="#9c9c9c" stroke-width="1.5" />
<circle cx="96.95" cy="412" r="0.7" stroke="#333" stroke-width="0.3" fill="#333" />
<circle cx="394.15000000000003" cy="412" r="0.7" stroke="#333" stroke-width="0.3" fill="#333" />
<text x="245.9" y="410.6" font-size="7.8" fill="#7c7c7c" text-anchor="middle" font-family="&quot;Liberation Serif&quot;, serif">1200</text>
<line x1="453.8" y1="88.4" x2="605.1" y2="88.4" stroke="#2e2e2e" stroke-width="1.15" />
<line x1="453.8" y1="88.4" x2="453.8" y2="390.3" stroke="#2e2e2e" stroke-width="1.15" />
<line x1="605.1" y1="88.4" x2="605.1" y2="390.3" stroke="#2e2e2e" stroke-width="1.15" />
<line x1="464.3" y1="88.4" x2="464.3" y2="370.6" stroke="#2e2e2e" stroke-width="1.15" />
<line x1="594.7" y1="88.4" x2="594.7" y2="370.6" stroke="#2e2e2e" stroke-width="1.15" />
<line x1="464.3" y1="108.45" x2="594.7" y2="108.45" stroke="#2e2e2e" stroke-width="1.15" />
<line x1="463.3" y1="88.4" x2="463.3" y2="108.45" stroke="#888" stroke-width="1.6" />
<rect x="454.5" y="88.9" width="7.8" height="18.5" rx="0.8" stroke="#1a1a1a" stroke-width="1.8" fill="#fff" />
<line x1="595.6" y1="88.4" x2="595.6" y2="108.45" stroke="#888" stroke-width="1.6" />
<rect x="596.5" y="89" width="7.8" height="18.4" rx="0.8" stroke="#1a1a1a" stroke-width="1.8" fill="#fff" />
<line x1="453.8" y1="108.45" x2="464.3" y2="108.45" stroke="#2e2e2e" stroke-width="1.15" />
<line x1="594.7" y1="108.45" x2="605.1" y2="108.45" stroke="#2e2e2e" stroke-width="1.15" />
<line x1="463.4" y1="371" x2="463.4" y2="390" stroke="#777" stroke-width="1.4" />
<rect x="454.8" y="371.4" width="7.8" height="18.1" rx="1.2" stroke="#1a1a1a" stroke-width="1.8" fill="#fff" />
<line x1="596" y1="371" x2="596" y2="390" stroke="#777" stroke-width="1.4" />
<rect x="596.8" y="371.4" width="8.2" height="18.1" rx="1.2" stroke="#1a1a1a" stroke-width="1.8" fill="#fff" />
<line x1="464.3" y1="370.6" x2="594.7" y2="370.6" stroke="#2e2e2e" stroke-width="1.15" />
<line x1="464.3" y1="387.4" x2="594.7" y2="387.4" stroke="#111" stroke-width="1.9" />
<line x1="464.3" y1="390.6" x2="594.7" y2="390.6" stroke="#222" stroke-width="1.2" />
<path d="M458.7,390.6 V398.7 Q458.7,400.9 460.9,400.9 H476.5 Q478.7,400.9 478.7,398.7 V390.6" stroke="#2e2e2e" stroke-width="1.15" fill="none" />
<path d="M579.4,390.6 V398.7 Q579.4,400.9 581.6,400.9 H598.1999999999999 Q600.4,400.9 600.4,398.7 V390.6" stroke="#2e2e2e" stroke-width="1.15" fill="none" />
<rect x="460" y="392" width="17.4" height="7.6" rx="1.6" stroke="#555" stroke-width="0.8" fill="none" />
<rect x="580.7" y="392" width="18.4" height="7.6" rx="1.6" stroke="#555" stroke-width="0.8" fill="none" />
<line x1="464.3" y1="128.75" x2="485" y2="108.45" stroke="#2e2e2e" stroke-width="1.15" />
<line x1="468.75" y1="115.75" x2="474.75" y2="115.75" stroke="#e0393b" stroke-width="0.6" />
<line x1="471.75" y1="112.75" x2="471.75" y2="118.75" stroke="#e0393b" stroke-width="0.6" />
<circle cx="471.75" cy="115.75" r="0.8" stroke="#a02020" stroke-width="0.5" fill="#a02020" />
<line x1="594.7" y1="128.75" x2="575" y2="108.45" stroke="#2e2e2e" stroke-width="1.15" />
<line x1="584.5" y1="115.75" x2="590.5" y2="115.75" stroke="#e0393b" stroke-width="0.6" />
<line x1="587.5" y1="112.75" x2="587.5" y2="118.75" stroke="#e0393b" stroke-width="0.6" />
<circle cx="587.5" cy="115.75" r="0.8" stroke="#a02020" stroke-width="0.5" fill="#a02020" />
<line x1="464.3" y1="350" x2="485" y2="370.6" stroke="#2e2e2e" stroke-width="1.15" />
<line x1="594.7" y1="350" x2="575" y2="370.6" stroke="#2e2e2e" stroke-width="1.15" />
<line x1="464.3" y1="282.0" x2="513" y2="282.0" stroke="#2e2e2e" stroke-width="1.15" />
<line x1="546.25" y1="282.0" x2="594.7" y2="282.0" stroke="#2e2e2e" stroke-width="1.15" />
<line x1="464.3" y1="297.1" x2="500.8" y2="297.1" stroke="#2e2e2e" stroke-width="1.15" />
<line x1="556" y1="297.1" x2="594.7" y2="297.1" stroke="#2e2e2e" stroke-width="1.15" />
<line x1="464.3" y1="299.3" x2="506.1" y2="299.3" stroke="#2e2e2e" stroke-width="0.9" />
<line x1="553.6" y1="299.3" x2="594.7" y2="299.3" stroke="#2e2e2e" stroke-width="0.9" />
<g clip-path="url(#belowbeam)">
<circle cx="529.5" cy="113.7" r="7.8" stroke="#262626" stroke-width="1.2" fill="none" />
<circle cx="529.5" cy="113.7" r="3.9" stroke="#1c1c1c" stroke-width="1.4" fill="none" />
</g>
<path d="M524.3,119.6 L524.7,121.4 L523.5,125.2 M534.7,119.6 L534.3,121.4 L535.5,125.2" stroke="#2e2e2e" stroke-width="1.1" fill="none" />
<line x1="524.7" y1="121.4" x2="534.3" y2="121.4" stroke="#2e2e2e" stroke-width="0.9" />
<path d="M527.1,125.2 Q527.3,123.2 529.5,123.2 Q531.7,123.2 531.9,125.2" stroke="#1c1c1c" stroke-width="1.3" fill="none" />
<line x1="521.0" y1="113.7" x2="538.0" y2="113.7" stroke="#e0393b" stroke-width="0.55" />
<path d="M513,143.75 V126.4 Q513,125.4 514,125.4 H545.25 Q546.25,125.4 546.25,126.4 V143.75" stroke="#262626" stroke-width="1.25" fill="none" />
<line x1="513" y1="125.5" x2="546.25" y2="125.5" stroke="#1c1c1c" stroke-width="1.3" />
<line x1="513" y1="127.9" x2="546.25" y2="127.9" stroke="#1c1c1c" stroke-width="1.2" />
<line x1="511.8" y1="143.75" x2="546.85" y2="143.75" stroke="#2e2e2e" stroke-width="1.15" />
<path d="M513.4,125.4 Q513.6,123.2 515.6,123.2 Q517.6,123.2 517.8000000000001,125.4" stroke="#1c1c1c" stroke-width="1.3" fill="none" />
<line x1="515.6" y1="122" x2="515.6" y2="130" stroke="#e0393b" stroke-width="0.5" />
<path d="M541.4499999999999,125.4 Q541.65,123.2 543.65,123.2 Q545.65,123.2 545.85,125.4" stroke="#1c1c1c" stroke-width="1.3" fill="none" />
<line x1="543.65" y1="122" x2="543.65" y2="130" stroke="#e0393b" stroke-width="0.5" />
<line x1="514.25" y1="143.75" x2="514.25" y2="271" stroke="#2e2e2e" stroke-width="1.15" />
<line x1="544.7" y1="143.75" x2="544.7" y2="271" stroke="#2e2e2e" stroke-width="1.15" />
<line x1="514.25" y1="271.7" x2="544.7" y2="271.7" stroke="#111" stroke-width="1.9" />
<rect x="513" y="272.2" width="33.25" height="9.8" rx="0" stroke="#2e2e2e" stroke-width="1.15" fill="none" />
<path d="M510.2,284.6 H550 V297.6 H553.6 V317.4 H506.1 V297.6 H510.2 Z" stroke="#2e2e2e" stroke-width="1.15" fill="#fff" />
<rect x="500.8" y="282.8" width="9.4" height="14.4" rx="0" stroke="#222" stroke-width="1.1" fill="#fff" />
<rect x="550" y="282.8" width="6" height="14.4" rx="0" stroke="#222" stroke-width="1.1" fill="#fff" />
<line x1="503.6" y1="282.8" x2="503.6" y2="297.2" stroke="#2e2e2e" stroke-width="0.9" />
<rect x="500.8" y="288.2" width="4.8" height="5.2" rx="0" stroke="#222" stroke-width="1.0" fill="#fff" />
<line x1="505.4" y1="296" x2="509.4" y2="284" stroke="#3a3" stroke-width="0.7" />
<line x1="551" y1="284.5" x2="555.2" y2="295.5" stroke="#3a3" stroke-width="0.7" />
<rect x="556" y="287" width="2.8" height="7.2" rx="0.8" stroke="#222" stroke-width="1.0" fill="#fff" />
<circle cx="518.7" cy="309.1" r="7.75" stroke="#161616" stroke-width="1.55" fill="none" />
<circle cx="541.7" cy="309.1" r="7.75" stroke="#161616" stroke-width="1.4" fill="none" />
<circle cx="541.7" cy="309.1" r="6.0" stroke="#2a2a2a" stroke-width="1.1" fill="none" />
<line x1="504" y1="309.1" x2="555" y2="309.1" stroke="#e0393b" stroke-width="0.5" stroke-dasharray="5 1.5 1.5 1.5"/>
<line x1="518.7" y1="297" x2="518.7" y2="321" stroke="#e0393b" stroke-width="0.5" stroke-dasharray="7 1.5 1.5 1.5"/>
<line x1="541.7" y1="297" x2="541.7" y2="335" stroke="#e0393b" stroke-width="0.5" stroke-dasharray="7 1.5 1.5 1.5"/>
<line x1="513" y1="291.2" x2="521" y2="291.2" stroke="#e0393b" stroke-width="0.55" />
<line x1="538" y1="291.2" x2="558" y2="291.2" stroke="#e0393b" stroke-width="0.55" />
<line x1="506" y1="301.8" x2="553" y2="301.8" stroke="#e0393b" stroke-width="0.5" stroke-dasharray="5 1.5 1.5 1.5"/>
<line x1="506" y1="316.4" x2="553" y2="316.4" stroke="#e0393b" stroke-width="0.5" stroke-dasharray="5 1.5 1.5 1.5"/>
<path d="M553.6,303.3 Q555.2,304 555.2,306 V312.5 Q555.2,314.6 553.6,315.4" stroke="#2e2e2e" stroke-width="1.0" fill="none" />
<line x1="502.6" y1="301" x2="506" y2="301" stroke="#111" stroke-width="1.6" />
<line x1="503" y1="316.6" x2="506" y2="316.6" stroke="#111" stroke-width="1.6" />
<rect x="505.7" y="331" width="48.0" height="14.9" rx="0" stroke="#1c1c1c" stroke-width="1.2" fill="#fff" />
<line x1="507" y1="331" x2="507" y2="345.9" stroke="#2e2e2e" stroke-width="0.8" />
<line x1="503" y1="336.2" x2="576" y2="336.2" stroke="#e0393b" stroke-width="0.5" stroke-dasharray="7 1.5 1.5 1.5"/>
<line x1="503" y1="338.8" x2="554" y2="338.8" stroke="#e0393b" stroke-width="0.45" stroke-dasharray="4 1.5"/>
<path d="M546.8,337 V362 A20.8,20.8 0 0 0 588.4,362 V186" stroke="#1e1e1e" stroke-width="6.6" fill="none" />
<path d="M546.8,337 V362 A20.8,20.8 0 0 0 588.4,362 V186" stroke="#fff" stroke-width="4.1" fill="none" />
<path d="M546.8,337 V362 A20.8,20.8 0 0 0 588.4,362 V186" stroke="#e0393b" stroke-width="0.5" fill="none" stroke-dasharray="7 1.5 1.5 1.5"/>
<path d="M512.5,337 V351 C512.5,368 524,384 561,383.2" stroke="#1e1e1e" stroke-width="6.6" fill="none" />
<path d="M512.5,337 V351 C512.5,368 524,384 561,383.2" stroke="#fff" stroke-width="4.1" fill="none" />
<path d="M512.5,337 V351 C512.5,368 524,384 561,383.2" stroke="#e0393b" stroke-width="0.5" fill="none" stroke-dasharray="7 1.5 1.5 1.5"/>
<path d="M524,324.3 H505 A36,36 0 0 0 469.2,360 V364" stroke="#1e1e1e" stroke-width="7.2" fill="none" />
<path d="M524,324.3 H505 A36,36 0 0 0 469.2,360 V364" stroke="#fff" stroke-width="4.6" fill="none" />
<path d="M524,324.3 H505 A36,36 0 0 0 469.2,360 V364" stroke="#e0393b" stroke-width="0.5" fill="none" stroke-dasharray="7 1.5 1.5 1.5"/>
<rect x="464.4" y="362.9" width="9.0" height="10.1" rx="0" stroke="#161616" stroke-width="1.4" fill="#fff" />
<line x1="463.2" y1="373" x2="463.2" y2="387" stroke="#2e2e2e" stroke-width="1.15" />
<line x1="473.8" y1="373" x2="473.8" y2="387" stroke="#2e2e2e" stroke-width="1.15" />
<line x1="463.4" y1="383.8" x2="481" y2="383.8" stroke="#e0393b" stroke-width="0.5" stroke-dasharray="4 1.5"/>
<line x1="469.2" y1="340" x2="469.2" y2="392" stroke="#e0393b" stroke-width="0.5" stroke-dasharray="7 1.5 1.5 1.5"/>
<line x1="463.4" y1="375.9" x2="470" y2="375.9" stroke="#e0393b" stroke-width="0.5" stroke-dasharray="3 1.5"/>
<rect x="476" y="375" width="1.2" height="1.2" rx="0" stroke="none" stroke-width="0" fill="#c02020" />
<rect x="522.3" y="320.1" width="10.8" height="7.5" rx="0" stroke="#1c1c1c" stroke-width="1.2" fill="#fff" />
<path d="M546.9,320.6 H548 Q550.6,321 550.6,324.3 Q550.6,327.4 548,327.8 H546.9" stroke="#1c1c1c" stroke-width="1.2" fill="#fff" />
<rect x="533.1" y="319.1" width="13.8" height="10.1" rx="0" stroke="#161616" stroke-width="1.5" fill="#fff" />
<circle cx="547.6" cy="324.3" r="2.0" stroke="#1c1c1c" stroke-width="1.3" fill="none" />
<line x1="520" y1="324.3" x2="553" y2="324.3" stroke="#e0393b" stroke-width="0.5" />
<line x1="525.2" y1="319" x2="525.2" y2="352" stroke="#e0393b" stroke-width="0.45" stroke-dasharray="6 1.5 1.5 1.5"/>
<line x1="536.6" y1="319" x2="536.6" y2="352" stroke="#e0393b" stroke-width="0.45" stroke-dasharray="6 1.5 1.5 1.5"/>
<line x1="541.7" y1="319" x2="541.7" y2="331" stroke="#e0393b" stroke-width="0.45" />
<rect x="508.9" y="331.2" width="6.8" height="7.2" rx="1.2" stroke="#161616" stroke-width="1.5" fill="#fff" />
<rect x="509.69999999999993" y="335.6" width="5.2" height="2.0" rx="0.8" stroke="#5a1010" stroke-width="0.5" fill="#d03030" />
<rect x="543.3000000000001" y="331.2" width="6.8" height="7.2" rx="1.2" stroke="#161616" stroke-width="1.5" fill="#fff" />
<rect x="544.1" y="335.6" width="5.2" height="2.0" rx="0.8" stroke="#5a1010" stroke-width="0.5" fill="#d03030" />
<rect x="507.0" y="346" width="3.2" height="3.4" rx="0" stroke="#2a2" stroke-width="0.7" fill="#5d5" />
<rect x="524.1" y="346" width="3.2" height="3.4" rx="0" stroke="#2a2" stroke-width="0.7" fill="#5d5" />
<rect x="534.4" y="346" width="3.2" height="3.4" rx="0" stroke="#2a2" stroke-width="0.7" fill="#5d5" />
<path d="M553.7,329.9 H556 L562.3,334.4 V338.6 L556,343 H553.7 Z" stroke="#1c1c1c" stroke-width="1.2" fill="#fff" />
<rect x="562.3" y="334.4" width="6.3" height="4.0" rx="0" stroke="#1c1c1c" stroke-width="1.1" fill="#fff" />
<line x1="568.6" y1="336.4" x2="570" y2="336.4" stroke="#1c1c1c" stroke-width="1.4" />
<rect x="570" y="329.4" width="3.3" height="14.2" rx="1.6" stroke="#3a3a3a" stroke-width="1.3" fill="#fff" />
<circle cx="560.6" cy="336.4" r="1.0" stroke="#111" stroke-width="0.5" fill="#111" />
<rect x="555.6" y="330.8" width="3.0" height="2.6" rx="0" stroke="#2a2" stroke-width="0.6" fill="#5d5" />
<rect x="555.6" y="341.6" width="3.0" height="2.6" rx="0" stroke="#2a2" stroke-width="0.6" fill="#5d5" />
<line x1="586.4" y1="190" x2="586.4" y2="300" stroke="#2e2e2e" stroke-width="0.0" />
<path d="M593.4,144.4 Q593.4,142.7 595,142.7 H601.8 L603.5,142 V167 H595 Q593.4,167 593.4,165.2 Z" stroke="#2e2e2e" stroke-width="1.15" fill="#fff" />
<line x1="602" y1="142.7" x2="602" y2="167" stroke="#2e2e2e" stroke-width="0.8" />
<line x1="598.6" y1="139" x2="598.6" y2="192" stroke="#e0393b" stroke-width="0.5" stroke-dasharray="7 1.5 1.5 1.5"/>
<line x1="592" y1="154.9" x2="608" y2="154.9" stroke="#e0393b" stroke-width="0.5" stroke-dasharray="4 1.5"/>
<rect x="596.2" y="167" width="4.8" height="4.2" rx="0" stroke="#111" stroke-width="1.2" fill="#666" />
<rect x="594.9" y="171.2" width="7.3" height="7.4" rx="0" stroke="#222" stroke-width="1.1" fill="#fff" />
<line x1="597.2" y1="171.2" x2="597.2" y2="178.6" stroke="#2e2e2e" stroke-width="0.7" />
<line x1="600" y1="171.2" x2="600" y2="178.6" stroke="#2e2e2e" stroke-width="0.7" />
<path d="M594.4,178.6 H602.6 V183 Q602.6,185.8 599.4,185.8 H594.4 Z" stroke="#111" stroke-width="1.3" fill="#777" />
<circle cx="598.8" cy="181.6" r="1.4" stroke="#111" stroke-width="0.8" fill="#ddd" />
<rect x="582.6" y="178.8" width="11.6" height="7.0" rx="0" stroke="#111" stroke-width="1.4" fill="#aaa" />
<rect x="584.2" y="180.4" width="3.2" height="3.8" rx="0" stroke="#222" stroke-width="0.7" fill="#eee" />
<rect x="589.2" y="179.8" width="2.0" height="5.0" rx="0" stroke="#222" stroke-width="0.6" fill="#333" />
<path d="M591.4,179 L595.4,177 M591.4,185.6 L595.4,187" stroke="#222" stroke-width="1.0" fill="none" />
<line x1="579" y1="182.3" x2="603" y2="182.3" stroke="#e0393b" stroke-width="0.5" />
<line x1="588.5" y1="171" x2="588.5" y2="200" stroke="#e0393b" stroke-width="0.5" stroke-dasharray="7 1.5 1.5 1.5"/>
<line x1="590.9" y1="186.4" x2="590.9" y2="192" stroke="#4a4" stroke-width="0.7" />
<circle cx="588.4" cy="246.6" r="1.3" stroke="#3fbf3f" stroke-width="0.5" fill="none" />
<circle cx="588.4" cy="249" r="1.3" stroke="#3fbf3f" stroke-width="0.5" fill="none" />
<line x1="484.2" y1="333.2" x2="488.6" y2="329.2" stroke="#4b4" stroke-width="0.6" />
<line x1="485.4" y1="334.4" x2="489.8" y2="330.4" stroke="#4b4" stroke-width="0.6" />
<line x1="516" y1="362.4" x2="519.2" y2="365.6" stroke="#4b4" stroke-width="0.6" />
<line x1="546.2" y1="356" x2="548.8" y2="359" stroke="#4b4" stroke-width="0.6" />
<line x1="529.6" y1="82" x2="529.6" y2="402" stroke="#e0393b" stroke-width="0.6" stroke-dasharray="7 1.5 1.5 1.5"/>
<text x="399.6 410.0 420.4 430.8 441.2" y="90.4" font-size="10" font-style="italic" fill="#484848" font-family="&quot;Liberation Serif&quot;, &quot;Noto Serif CJK SC&quot;, serif">封头放液堵</text>
<path d="M398.6,92.9 H453.6" stroke="#666" stroke-width="0.7" fill="none" />
<path d="M453.6,92.9 L521.5,117.5" stroke="#666" stroke-width="0.7" fill="none" />
<text x="409.3 419.6 429.9" y="138.6" font-size="10" font-style="italic" fill="#484848" font-family="&quot;Liberation Serif&quot;, &quot;Noto Serif CJK SC&quot;, serif">压力表</text>
<path d="M407.9,141 H441.4" stroke="#666" stroke-width="0.7" fill="none" />
<path d="M407.9,141 L317.2,158.4" stroke="#666" stroke-width="0.7" fill="none" />
<text x="409.3" y="182.6" font-size="9.8" font-style="italic" fill="#484848" font-family="&quot;Liberation Serif&quot;, &quot;Noto Serif CJK SC&quot;, serif">架</text>
<path d="M409.3,184.4 H441.9" stroke="#666" stroke-width="0.7" fill="none" />
<path d="M409.3,184.4 L388,195.5" stroke="#666" stroke-width="0.7" fill="none" />
<text x="430.4" y="182.6" font-size="9.8" font-style="italic" fill="#484848" font-family="&quot;Liberation Serif&quot;, &quot;Noto Serif CJK SC&quot;, serif">体</text>
<text x="404 414.3 424.6 434.9" y="220.8" font-size="10" font-style="italic" fill="#484848" font-family="&quot;Liberation Serif&quot;, &quot;Noto Serif CJK SC&quot;, serif">滤筒滤芯</text>
<path d="M404,222.7 H448.7" stroke="#666" stroke-width="0.7" fill="none" />
<path d="M448.7,222.7 L523,240.5" stroke="#666" stroke-width="0.7" fill="none" />
<text x="408.7 419.1 429.5" y="265.4" font-size="10" font-style="italic" fill="#484848" font-family="&quot;Liberation Serif&quot;, &quot;Noto Serif CJK SC&quot;, serif">过滤体</text>
<path d="M408.7,267.4 H441.9" stroke="#666" stroke-width="0.7" fill="none" />
<path d="M441.9,267.4 L526,299" stroke="#666" stroke-width="0.7" fill="none" />
<text x="404 414.3 424.6 434.9" y="307.4" font-size="10" font-style="italic" fill="#484848" font-family="&quot;Liberation Serif&quot;, &quot;Noto Serif CJK SC&quot;, serif">反冲手轮</text>
<path d="M403.6,309 H447" stroke="#666" stroke-width="0.7" fill="none" />
<path d="M403.6,309 L305,337.5" stroke="#666" stroke-width="0.7" fill="none" />
<text x="408 418.4 428.8" y="348.6" font-size="10" font-style="italic" fill="#484848" font-family="&quot;Liberation Serif&quot;, &quot;Noto Serif CJK SC&quot;, serif">排污管</text>
<path d="M408,350.3 H440.7" stroke="#666" stroke-width="0.7" fill="none" />
<path d="M408,350.3 L355,358" stroke="#666" stroke-width="0.7" fill="none" />
<text x="409.3 419.5 429.7" y="393.4" font-size="10" font-style="italic" fill="#484848" font-family="&quot;Liberation Serif&quot;, &quot;Noto Serif CJK SC&quot;, serif">控制阀</text>
<path d="M408.7,395.5 H441.9" stroke="#666" stroke-width="0.7" fill="none" />
<path d="M441.9,395.5 L457,384.3 L524.3,340.7" stroke="#666" stroke-width="0.7" fill="none" />
<line x1="453.8" y1="390.3" x2="453.8" y2="414.3" stroke="#9c9c9c" stroke-width="1.15" />
<line x1="605.1" y1="390.3" x2="605.1" y2="414.3" stroke="#9c9c9c" stroke-width="1.15" />
<line x1="453.8" y1="411.8" x2="605.1" y2="411.8" stroke="#9c9c9c" stroke-width="1.5" />
<circle cx="456.2" cy="411.8" r="0.7" stroke="#333" stroke-width="0.3" fill="#333" />
<circle cx="602.9" cy="411.8" r="0.7" stroke="#333" stroke-width="0.3" fill="#333" />
<text x="529.6" y="410.6" font-size="7.8" fill="#7c7c7c" text-anchor="middle" font-family="&quot;Liberation Serif&quot;, serif">600</text>
<line x1="605.1" y1="88.4" x2="625.4" y2="88.4" stroke="#9c9c9c" stroke-width="1.15" />
<line x1="600.4" y1="400.9" x2="625.4" y2="400.9" stroke="#9c9c9c" stroke-width="1.15" />
<line x1="622.9" y1="88.4" x2="622.9" y2="400.9" stroke="#9c9c9c" stroke-width="1.4" />
<circle cx="622.9" cy="90.9" r="0.7" stroke="#333" stroke-width="0.3" fill="#333" />
<circle cx="622.9" cy="398.5" r="0.7" stroke="#333" stroke-width="0.3" fill="#333" />
<text transform="translate(621.4 244.2) rotate(-90)" x="0" y="0" font-size="7.8" fill="#7c7c7c" text-anchor="middle" font-family="&quot;Liberation Serif&quot;, serif">1240</text>
</svg>
</body></html>
